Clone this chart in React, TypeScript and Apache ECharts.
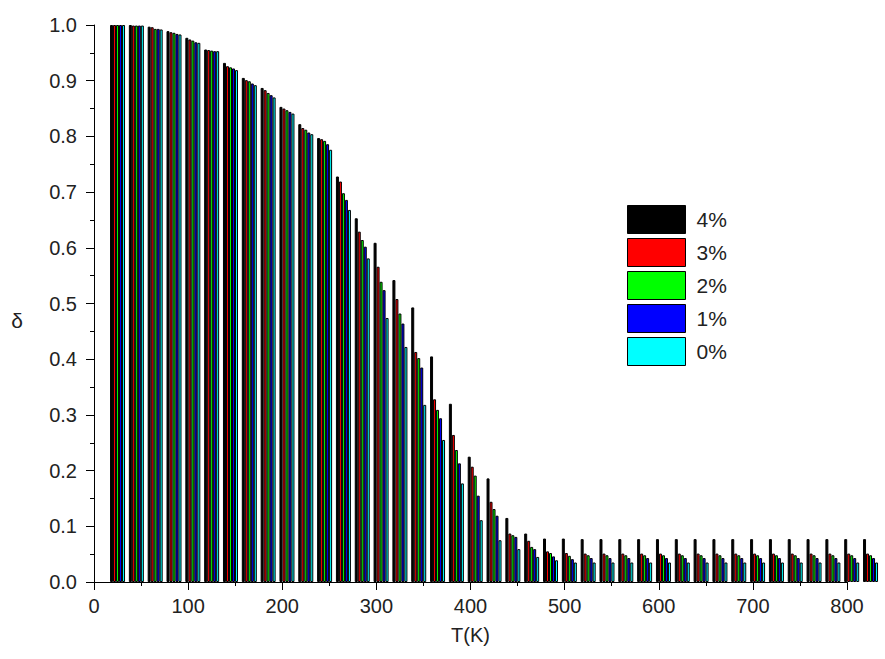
import React, { useEffect, useRef } from "react";
import * as echarts from "echarts";

const temps = [25, 45, 65, 85, 105, 125, 145, 165, 185, 205, 225, 245, 265, 285, 305, 325, 345, 365, 385, 405, 425, 445, 465, 485, 505, 525, 545, 565, 585, 605, 625, 645, 665, 685, 705, 725, 745, 765, 785, 805, 825];

const seriesNames = ["4%", "3%", "2%", "1%", "0%"];
const seriesColors = ["#000000", "#ff0000", "#00ff00", "#0000ff", "#00ffff"];

const d4 = [1.000, 1.000, 0.997, 0.989, 0.977, 0.956, 0.932, 0.905, 0.887, 0.853, 0.822, 0.797, 0.728, 0.653, 0.609, 0.542, 0.493, 0.405, 0.320, 0.225, 0.186, 0.115, 0.087, 0.078, 0.078, 0.077, 0.077, 0.077, 0.077, 0.077, 0.077, 0.077, 0.077, 0.077, 0.077, 0.077, 0.077, 0.077, 0.077, 0.077, 0.077];
const d3 = [1.000, 0.999, 0.996, 0.987, 0.974, 0.955, 0.926, 0.901, 0.883, 0.850, 0.815, 0.795, 0.719, 0.629, 0.566, 0.508, 0.413, 0.328, 0.264, 0.207, 0.144, 0.087, 0.074, 0.055, 0.052, 0.051, 0.051, 0.051, 0.051, 0.051, 0.051, 0.051, 0.051, 0.051, 0.051, 0.051, 0.051, 0.051, 0.051, 0.051, 0.051];
const d2 = [1.000, 0.999, 0.993, 0.986, 0.972, 0.954, 0.924, 0.899, 0.878, 0.847, 0.812, 0.792, 0.698, 0.614, 0.539, 0.482, 0.402, 0.309, 0.237, 0.191, 0.131, 0.084, 0.063, 0.052, 0.047, 0.048, 0.048, 0.048, 0.048, 0.048, 0.048, 0.048, 0.048, 0.048, 0.048, 0.048, 0.048, 0.048, 0.048, 0.048, 0.048];
const d1 = [1.000, 0.999, 0.993, 0.984, 0.969, 0.953, 0.922, 0.895, 0.874, 0.844, 0.807, 0.786, 0.686, 0.602, 0.524, 0.464, 0.385, 0.294, 0.213, 0.155, 0.119, 0.081, 0.059, 0.046, 0.041, 0.043, 0.043, 0.043, 0.043, 0.043, 0.043, 0.043, 0.043, 0.043, 0.043, 0.043, 0.043, 0.043, 0.043, 0.043, 0.043];
const d0 = [1.000, 0.999, 0.992, 0.983, 0.968, 0.953, 0.919, 0.892, 0.870, 0.841, 0.804, 0.776, 0.668, 0.581, 0.474, 0.422, 0.318, 0.255, 0.177, 0.111, 0.075, 0.059, 0.045, 0.039, 0.035, 0.035, 0.035, 0.035, 0.035, 0.035, 0.035, 0.035, 0.035, 0.035, 0.035, 0.035, 0.035, 0.035, 0.035, 0.035, 0.035];

const seriesValues = [d4, d3, d2, d1, d0];

const xTicks = [0, 100, 200, 300, 400, 500, 600, 700, 800];

const FONT = "'Liberation Sans', Arial, sans-serif";
const TEXT = "#222222";

export default function App() {
  const ref = useRef<HTMLDivElement>(null);

  useEffect(() => {
    if (!ref.current) return;
    const chart = echarts.init(ref.current, undefined, { renderer: "svg" });
    const option: any = {
      animation: false,
      backgroundColor: "#ffffff",
      grid: { left: 94, top: 25, right: 38, bottom: 77, containLabel: false },
      legend: {
        orient: "vertical",
        left: 627,
        top: 205,
        padding: 0,
        itemWidth: 58,
        itemHeight: 28,
        itemGap: 4,
        icon: "rect",
        selectedMode: false,
        data: seriesNames,
        textStyle: { fontSize: 21, color: TEXT, fontFamily: FONT, padding: [0, 0, 0, 6] },
        itemStyle: { borderColor: "#000", borderWidth: 1 },
      },
      xAxis: {
        type: "value",
        min: 0,
        max: 800,
        interval: 100,
        name: "T(K)",
        nameLocation: "middle",
        nameGap: 43,
        nameTextStyle: { fontSize: 20, color: TEXT, fontFamily: FONT },
        axisLine: { show: true, onZero: false, lineStyle: { color: "#000", width: 1 } },
        axisTick: { show: true, inside: false, length: 8, lineStyle: { color: "#000", width: 1 } },
        minorTick: { show: true, splitNumber: 2, length: 4, lineStyle: { color: "#000", width: 1 } },
        splitLine: { show: false },
        minorSplitLine: { show: false },
        axisLabel: {
          fontSize: 20,
          color: TEXT,
          fontFamily: FONT,
          margin: 14,
          customValues: xTicks,
        },
      },
      yAxis: {
        type: "value",
        min: 0,
        max: 1,
        interval: 0.1,
        axisLine: { show: true, lineStyle: { color: "#000", width: 1 } },
        axisTick: { show: true, inside: false, length: 8, lineStyle: { color: "#000", width: 1 } },
        minorTick: { show: true, splitNumber: 2, length: 4, lineStyle: { color: "#000", width: 1 } },
        splitLine: { show: false },
        minorSplitLine: { show: false },
        axisLabel: {
          fontSize: 20,
          color: TEXT,
          fontFamily: FONT,
          margin: 17,
          formatter: (v: number) => v.toFixed(1),
        },
      },
      graphic: [
        {
          type: "text",
          x: 17,
          y: 320,
          style: {
            text: "δ",
            fontSize: 21,
            fill: TEXT,
            fontFamily: FONT,
            align: "center",
            verticalAlign: "middle",
          },
        },
      ],
      series: seriesNames.map((name, si) => ({
        name,
        type: "bar",
        barWidth: 3,
        barGap: "0%",
        clip: false,
        itemStyle: { color: seriesColors[si], borderColor: "#000", borderWidth: 1 },
        data: temps.map((t, i) => [t, seriesValues[si][i]]),
      })),
    };
    chart.setOption(option);
    return () => chart.dispose();
  }, []);

  return (
    <div
      ref={ref}
      style={{ position: "absolute", left: 0, top: 0, width: 885, height: 659, background: "#fff" }}
    />
  );
}
